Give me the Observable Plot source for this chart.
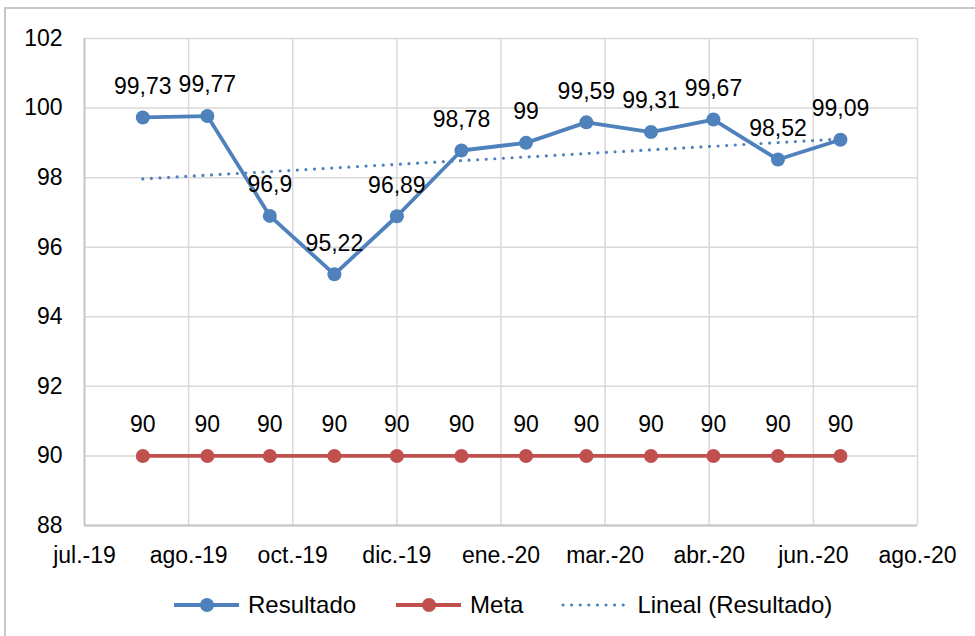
<!DOCTYPE html>
<html>
<head>
<meta charset="utf-8">
<script src="https://cdn.jsdelivr.net/npm/d3@7"></script>
<script src="https://cdn.jsdelivr.net/npm/@observablehq/plot@0.6"></script>
<style>
  html, body { margin: 0; padding: 0; background: #fff; overflow: hidden; }
  body { width: 975px; height: 636px; position: relative; font-family: "Liberation Sans", Arial, sans-serif; }
  #frame { position: absolute; left: 4px; top: 7px; width: 1100px; height: 800px;
           border-top: 2px solid #c8c8c8; border-left: 2px solid #c8c8c8; box-sizing: border-box; }
  #chart { position: absolute; left: 0; top: 0; }
  #legend { position: absolute; left: 172px; top: 590px; height: 30px; display: flex; align-items: center;
            gap: 38px; font-size: 24px; color: #000; white-space: nowrap; }
  .item { display: flex; align-items: center; }
  .item svg { margin-right: 7px; }
</style>
</head>
<body>
<div id="frame"></div>
<div id="chart"></div>
<div id="legend"></div>
<script>
// ---- data ----
const months = ["2019-08-01","2019-09-01","2019-10-01","2019-11-01","2019-12-01","2020-01-01",
                "2020-02-01","2020-03-01","2020-04-01","2020-05-01","2020-06-01","2020-07-01"];
const resultado = [99.73, 99.77, 96.9, 95.22, 96.89, 98.78, 99, 99.59, 99.31, 99.67, 98.52, 99.09];
const meta = [90, 90, 90, 90, 90, 90, 90, 90, 90, 90, 90, 90];
const tickDates = ["2019-07-04","2019-08-23","2019-10-12","2019-12-01","2020-01-20",
                   "2020-03-10","2020-04-29","2020-06-18","2020-08-07"];
const tickLabels = ["jul.-19","ago.-19","oct.-19","dic.-19","ene.-20","mar.-20","abr.-20","jun.-20","ago.-20"];
const yTicks = [88, 90, 92, 94, 96, 98, 100, 102];
const seriesNames = ["Resultado", "Meta", "Lineal (Resultado)"];

// ---- build tables ----
const blue = "#4F81BD", red = "#C0504D", grid = "#D9D9D9";
const rows = months.map((m, i) => ({date: new Date(m), resultado: resultado[i], meta: meta[i]}));
const ticks = tickDates.map(d => new Date(d));
const labelMap = new Map(ticks.map((d, i) => [+d, tickLabels[i]]));
const fmt = v => String(v).replace(".", ",");

const chart = Plot.plot({
  width: 975,
  height: 580,
  marginTop: 38,
  marginBottom: 55,
  marginLeft: 84,
  marginRight: 58,
  style: {fontFamily: '"Liberation Sans", Arial, sans-serif', fontSize: "23px", color: "#000", background: "transparent", overflow: "visible"},
  x: {type: "utc", domain: [ticks[0], ticks[ticks.length - 1]], ticks: ticks,
      tickFormat: d => labelMap.get(+d), tickSize: 0, tickPadding: 21, label: null},
  y: {domain: [88, 102], ticks: yTicks, tickSize: 0, tickPadding: 22, label: null},
  marks: [
    Plot.ruleX(ticks, {stroke: grid, strokeWidth: 1.5}),
    Plot.ruleY(yTicks, {stroke: grid, strokeWidth: 1.5}),
    Plot.ruleX([ticks[0]], {stroke: "#C4C4C4", strokeWidth: 1.8}),
    Plot.ruleY([88], {stroke: "#C4C4C4", strokeWidth: 1.8}),
    Plot.line(rows, {x: "date", y: "meta", stroke: red, strokeWidth: 3.8}),
    Plot.dot(rows, {x: "date", y: "meta", r: 7, fill: red, stroke: "none"}),
    Plot.line(rows, {x: "date", y: "resultado", stroke: blue, strokeWidth: 3.8}),
    Plot.dot(rows, {x: "date", y: "resultado", r: 7, fill: blue, stroke: "none"}),
    Plot.linearRegressionY(rows, {x: "date", y: "resultado", stroke: blue, ci: 0, strokeWidth: 3.2,
      strokeDasharray: "0 8.6", strokeLinecap: "round"}),
    Plot.text(rows, {x: "date", y: "resultado", text: d => fmt(d.resultado), dy: -31, fontSize: 23, fill: "#000"}),
    Plot.text(rows, {x: "date", y: "meta", text: d => fmt(d.meta), dy: -31, fontSize: 23, fill: "#000"})
  ]
});
document.getElementById("chart").appendChild(chart);

// ---- legend ----
const legend = document.getElementById("legend");
const swatches = [
  `<svg width="69" height="20"><line x1="2" x2="67" y1="10" y2="10" stroke="${blue}" stroke-width="3.8"/><circle cx="35" cy="10" r="7" fill="${blue}"/></svg>`,
  `<svg width="69" height="20"><line x1="2" x2="67" y1="10" y2="10" stroke="${red}" stroke-width="3.8"/><circle cx="35" cy="10" r="7" fill="${red}"/></svg>`,
  `<svg width="69" height="20"><line x1="2" x2="67" y1="10" y2="10" stroke="${blue}" stroke-width="3.2" stroke-dasharray="0 8.6" stroke-linecap="round"/></svg>`
];
seriesNames.forEach((name, i) => {
  const div = document.createElement("div");
  div.className = "item";
  div.innerHTML = swatches[i] + `<span>${name}</span>`;
  legend.appendChild(div);
});
</script>
</body>
</html>
